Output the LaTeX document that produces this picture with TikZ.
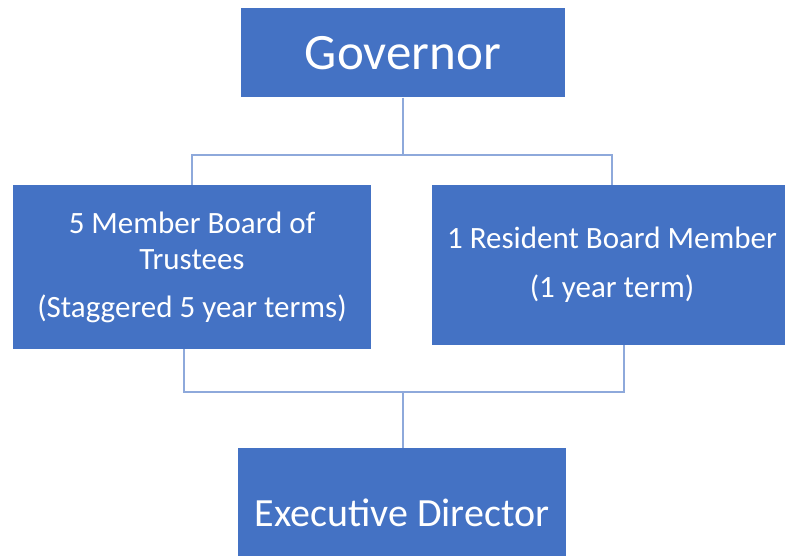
\documentclass[tikz,border=0pt]{standalone}
\usepackage{fontspec}
\setmainfont{Carlito}
\definecolor{boxblue}{HTML}{4472C4}
\definecolor{linkblue}{HTML}{8EA9DB}
\tikzset{
  orgbox/.style={fill=boxblue, text=white, inner sep=0pt, align=center},
  link/.style={draw=linkblue, line width=1.3pt}
}
\begin{document}
\begin{tikzpicture}[x=1pt, y=-1pt]
\useasboundingbox (0,0) rectangle (785,556);
\clip (0,0) rectangle (785,556);
\node[orgbox, minimum width=324pt, minimum height=89pt, font=\fontsize{51}{56}\selectfont] (gov) at (403,53) {Governor};
\node[orgbox, minimum width=358pt, minimum height=164pt, font=\fontsize{31}{36}\selectfont] (trustees) at (192,267)
  {5 Member Board of\\Trustees\\[12pt](Staggered 5 year terms)};
\node[orgbox, minimum width=360pt, minimum height=160pt, font=\fontsize{31}{36}\selectfont] (resident) at (612,265)
  {1 Resident Board Member\\[13pt](1 year term)};
\node[orgbox, minimum width=328pt, minimum height=130pt, font=\fontsize{40}{46}\selectfont] (director) at (402,513) {Executive Director};
\coordinate (top) at (403,155);
\coordinate (bot) at (403,392);
\draw[link] (gov) -- (top);
\draw[link] (trustees.north) |- (top) -| (resident.north);
\draw[link] ([xshift=-8pt]trustees.south) |- (bot) -| ([xshift=12pt]resident.south);
\draw[link] (bot) -- (bot |- director.north);
\end{tikzpicture}
\end{document}
